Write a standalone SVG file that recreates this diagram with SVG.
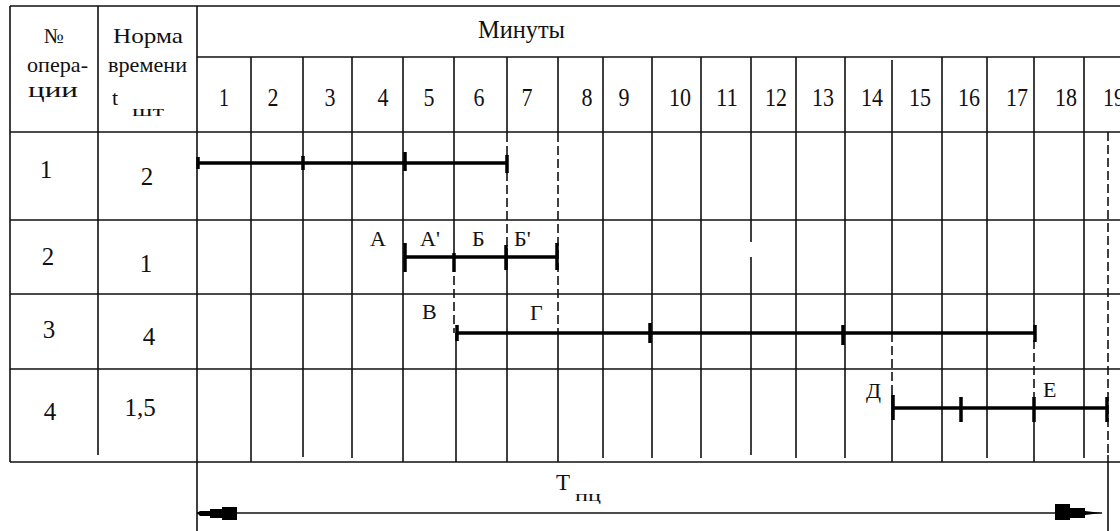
<svg xmlns="http://www.w3.org/2000/svg" width="1120" height="531" viewBox="0 0 1120 531">
<style>
.g{stroke:#111;stroke-width:1.6;fill:none}
.d{stroke:#111;stroke-width:1.6;fill:none;stroke-dasharray:9 4}
.b{stroke:#000;stroke-width:3.5;fill:none}
.t{stroke:#000;stroke-width:3.5;fill:none}
.tx{font-family:"Liberation Serif","Times New Roman",serif;fill:#111}
.n{font-size:25px;text-anchor:middle}
.h{font-size:26px;text-anchor:middle}
.l{font-size:21px}
.m{font-size:22px}
.s{font-size:15px}
</style>
<rect width="1120" height="531" fill="#fff"/>
<g id="grid">
<path class="g" d="M10,6H1120M197,57H1120M10,132H1120M10,220H1120M10,294H1120M10,369H1120M10,462H1120"/>
<path class="g" d="M10,6V462M98,6V455M197,6V531"/>
<path class="g" d="M251,57V462M303,57V457M352,57V458M403,57V462M454,57V250M456,333V462M507,57V133M507,248V462M558,57V133M558,330V462M603,57V458M652,57V458M701,57V458M751,57V242M751,257V455M796,57V458M845,57V458M892,60V333M892,393V462M942,57V462M987,57V458M1034,57V333M1034,395V462M1084,57V458M1108,455V531"/>
<path class="d" d="M454,250V333M507,133V248M558,133V330M892,333V393M1034,340V395M1108,132V455"/>
</g>
<g id="header" class="tx">
<text class="l" x="44" y="43" textLength="20" lengthAdjust="spacingAndGlyphs">№</text>
<text class="l" x="27" y="72" textLength="61" lengthAdjust="spacingAndGlyphs">опера-</text>
<text class="l" x="28" y="97" textLength="50" lengthAdjust="spacingAndGlyphs">ции</text>
<text class="l" x="113" y="43" textLength="70" lengthAdjust="spacingAndGlyphs">Норма</text>
<text class="l" x="108" y="72" textLength="79" lengthAdjust="spacingAndGlyphs">времени</text>
<text class="m" x="112" y="105">t</text>
<text class="s" x="132" y="116" textLength="32" lengthAdjust="spacingAndGlyphs">шт</text>
<text x="478" y="38" style="font-size:25px" textLength="87" lengthAdjust="spacingAndGlyphs">Минуты</text>
<g class="h">
<text x="224" y="106" textLength="10" lengthAdjust="spacingAndGlyphs">1</text><text x="273" y="106" textLength="11" lengthAdjust="spacingAndGlyphs">2</text><text x="330" y="106" textLength="11" lengthAdjust="spacingAndGlyphs">3</text><text x="383" y="106" textLength="11" lengthAdjust="spacingAndGlyphs">4</text>
<text x="429" y="106" textLength="11" lengthAdjust="spacingAndGlyphs">5</text><text x="479" y="106" textLength="11" lengthAdjust="spacingAndGlyphs">6</text><text x="527" y="106" textLength="11" lengthAdjust="spacingAndGlyphs">7</text><text x="587" y="106" textLength="11" lengthAdjust="spacingAndGlyphs">8</text>
<text x="624" y="106" textLength="11" lengthAdjust="spacingAndGlyphs">9</text><text x="680" y="106" textLength="22" lengthAdjust="spacingAndGlyphs">10</text><text x="727" y="106" textLength="22" lengthAdjust="spacingAndGlyphs">11</text><text x="776" y="106" textLength="22" lengthAdjust="spacingAndGlyphs">12</text>
<text x="823" y="106" textLength="22" lengthAdjust="spacingAndGlyphs">13</text><text x="872" y="106" textLength="22" lengthAdjust="spacingAndGlyphs">14</text><text x="920" y="106" textLength="22" lengthAdjust="spacingAndGlyphs">15</text><text x="969" y="106" textLength="22" lengthAdjust="spacingAndGlyphs">16</text>
<text x="1017" y="106" textLength="22" lengthAdjust="spacingAndGlyphs">17</text><text x="1066" y="106" textLength="22" lengthAdjust="spacingAndGlyphs">18</text><text x="1114" y="106" textLength="22" lengthAdjust="spacingAndGlyphs">19</text>
</g>
</g>
<g id="op1" class="tx n"><text x="46" y="178">1</text><text x="147" y="185">2</text></g>
<g id="op2" class="tx n"><text x="48" y="265">2</text><text x="146" y="272">1</text></g>
<g id="op3" class="tx n"><text x="49" y="338">3</text><text x="149" y="345">4</text></g>
<g id="op4" class="tx n"><text x="50" y="420">4</text><text x="140" y="416">1,5</text></g>
<g id="labels" class="tx m">
<text x="370" y="246">А</text>
<text x="420" y="246">А'</text>
<text x="472" y="246">Б</text>
<text x="514" y="246">Б'</text>
<text x="422" y="319">В</text>
<text x="530" y="320">Г</text>
<text x="866" y="398">Д</text>
<text x="1043" y="397">Е</text>
</g>
<g id="connectors">
<path class="b" d="M197,163H507M404,257H557M456,333H1035M893,408H1107"/>
<path class="t" d="M198,157V169M303,156V170M507,155V173M454,253V272M506,245V270M557,243V270M457,325V341M650,323V343M843,325V345M1035,325V342M961,397V422M1107,397V422"/>
<path class="t" stroke-width="4.5" d="M405,152V171M405,243V272M893,395V420M1034,397V422"/>
<path class="g" d="M197,513H1102"/>
<polygon fill="#000" points="197,513 200,511 210,511 210,509 222,509 222,507 237,507 237,520 222,520 222,518 210,518 210,516 200,516"/>
<polygon fill="#000" points="1055,504 1070,504 1070,508 1085,508 1085,511 1102,513 1085,515 1085,518 1070,518 1070,520 1055,520"/>
</g>
<g id="total" class="tx">
<text x="556" y="490" style="font-size:23px">T</text>
<text class="s" x="575" y="501" textLength="26" lengthAdjust="spacingAndGlyphs">пц</text>
</g>
</svg>
